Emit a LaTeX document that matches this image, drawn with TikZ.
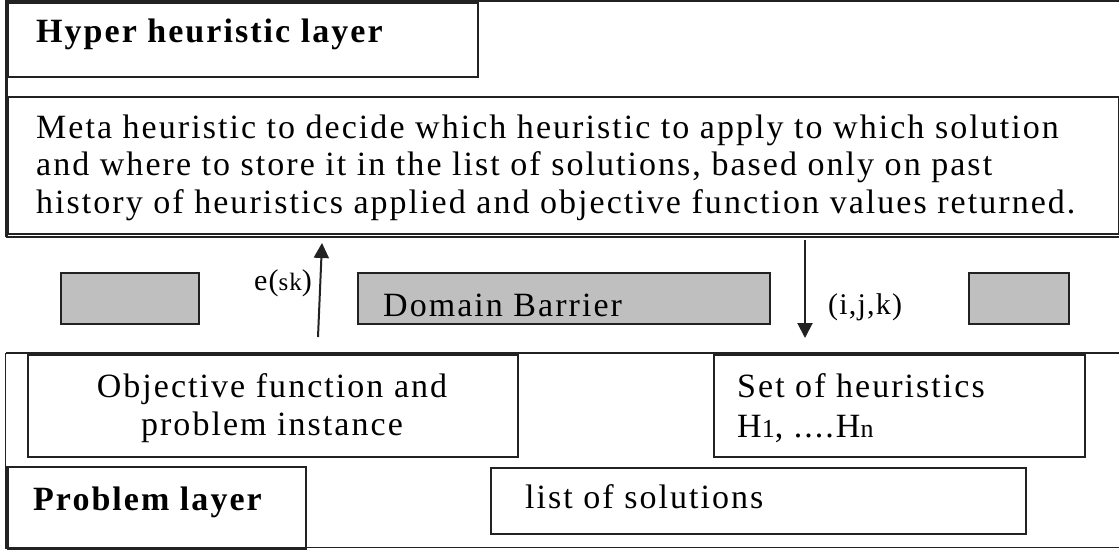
\documentclass[tikz,border=0pt]{standalone}
\usepackage{fontspec}
\setmainfont{Liberation Serif}
\usetikzlibrary{arrows.meta}
\definecolor{barriergray}{RGB}{191,191,191}
\definecolor{ink}{RGB}{34,34,34}

\begin{document}
\begin{tikzpicture}[x=1pt,y=-1pt,
  box/.style={draw=ink, line width=1.8pt, inner sep=0, anchor=north west},
  barrier/.style={box, fill=barriergray},
  txt/.style={inner sep=0, anchor=base west, font=\fontsize{34}{37}\selectfont\addfontfeatures{LetterSpace=6}},
  lbl/.style={inner sep=0, anchor=base west, font=\fontsize{30}{32}\selectfont\addfontfeatures{LetterSpace=4}},
  flow/.style={draw=ink, line width=2pt, -{Triangle[length=15pt,width=15pt]}}]
\useasboundingbox (0,0) rectangle (1119,549);

% hyper heuristic layer
\draw[ink, line width=1.8pt] (6,1) -- (1119,1);
\draw[ink, line width=1.8pt] (6,237) -- (1119,237);
\node[box, minimum width=470, minimum height=74] (hyper) at (7,2) {};
\node[box, minimum width=1111, minimum height=137] (meta) at (7,96) {};
\draw[ink, line width=3.5pt] (6.5,0) -- (6.5,237);
\node[txt] (hypertxt) at (36,42) {\bfseries Hyper heuristic layer};
\node[txt] (meta1) at (36,138) {Meta heuristic to decide which heuristic to apply to which solution};
\node[txt] (meta2) at (36,175.5) {and where to store it in the list of solutions, based only on past};
\node[txt] (meta3) at (36,213) {history of heuristics applied and objective function values returned.};

% domain barrier
\node[barrier, minimum width=138, minimum height=51] (barl) at (60,272) {};
\node[barrier, minimum width=412, minimum height=51] (barm) at (357,272) {};
\node[barrier, minimum width=100, minimum height=51] (barr) at (968,272) {};
\node[txt] (bartxt) at (383,316) {Domain Barrier};

\coordinate (up0) at (318,337);
\coordinate (up1) at (322,243);
\draw[flow] (up0) -- (up1);
\node[lbl, anchor=base east] (esk) at (312,290) {e({\fontsize{25}{26}\selectfont sk})};
\coordinate (dn0) at (805,240);
\coordinate (dn1) at (805,338);
\draw[flow] (dn0) -- (dn1);
\node[lbl] (ijk) at (828,314) {(i,j,k)};

% problem layer
\draw[ink, line width=1.8pt] (6,353) -- (1119,353);
\draw[ink, line width=1.8pt] (6,547.5) -- (1119,547.5);
\draw[ink, line width=1.2pt] (5.5,353) -- (5.5,466);
\node[box, minimum width=490, minimum height=102] (obj) at (27,354) {};
\node[box, minimum width=371, minimum height=102] (heur) at (713,354) {};
\node[box, minimum width=298, minimum height=82] (prob) at (7,466) {};
\node[box, minimum width=535, minimum height=66] (sols) at (490,467) {};
\draw[ink, line width=3.5pt] (6.5,466) -- (6.5,549);
\node[txt, anchor=base] (obj1) at (272,397) {Objective function and};
\node[txt, anchor=base] (obj2) at (272,435) {problem instance};
\node[txt] (heur1) at (737,397) {Set of heuristics};
\node[txt] (heur2) at (737,437) {H{\fontsize{26}{28}\selectfont 1}, ....H{\fontsize{26}{28}\selectfont n}};
\node[txt] (probtxt) at (33,510) {\bfseries Problem layer};
\node[txt] (solstxt) at (525,508) {list of solutions};
\end{tikzpicture}
\end{document}
